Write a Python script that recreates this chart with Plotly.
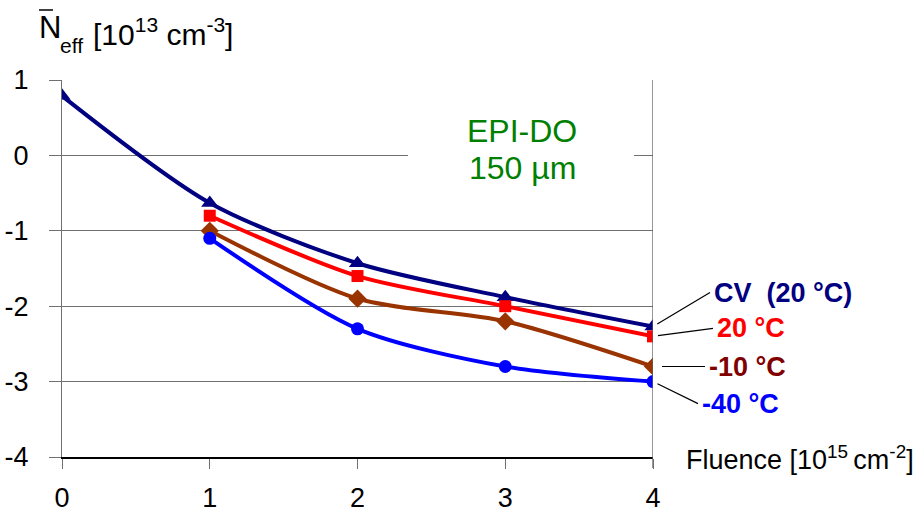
import plotly.graph_objects as go

fluence_cv = [0, 1, 2, 3, 4]
neff_cv = [0.79, -0.63, -1.43, -1.88, -2.27]
fluence = [1, 2, 3, 4]
neff_20 = [-0.80, -1.60, -2.00, -2.40]
neff_m10 = [-1.00, -1.90, -2.20, -2.80]
neff_m40 = [-1.10, -2.30, -2.80, -3.00]

labels = ["CV  (20 °C)", "20 °C", "-10 °C", "-40 °C"]
x_ticks = [0, 1, 2, 3, 4]
y_ticks = [-4, -3, -2, -1, 0, 1]
y_ticktext = ["-4", "-3", "-2", "-1", "0", "1"]

FONT = "Liberation Sans, Arial, sans-serif"

# pixel helpers for placing decoration text (plot area: x 62..653, y 80..457)
def px(xp):
    return (xp - 62) / 591.0

def py(yp):
    return (457 - yp) / 377.0

fig = go.Figure()
series = [
    (fluence_cv, neff_cv, "#000080", "triangle-up", 15),
    (fluence, neff_20, "#FF0000", "square", 12),
    (fluence, neff_m10, "#993300", "diamond", 14),
    (fluence, neff_m40, "#0000FF", "circle", 13),
]
for (xs, ys, col, sym, ms), name in zip(series, labels):
    fig.add_trace(go.Scatter(
        x=xs, y=ys, mode="lines+markers", name=name,
        line=dict(color=col, width=4, shape="spline", smoothing=0.8),
        marker=dict(color=col, symbol=sym, size=ms),
        showlegend=False,
    ))

# series labels with leader lines
label_cols = ["#000080", "#FF0000", "#800000", "#0000FF"]
ends = [neff_cv[-1], neff_20[-1], neff_m10[-1], neff_m40[-1]]
offsets = [(57, -34, 5), (60, -8, 5), (52, 0, 9), (45, 22, 5)]
for lab, col, yv, (ax, ay, so) in zip(labels, label_cols, ends, offsets):
    fig.add_annotation(
        x=4, y=yv, xref="x", yref="y", text="<b>%s</b>" % lab,
        showarrow=True, arrowhead=0, arrowwidth=1.2, arrowcolor="black",
        ax=ax, ay=ay, standoff=so, xanchor="left", yanchor="middle",
        font=dict(family=FONT, size=27, color=col), borderpad=3,
    )

# EPI-DO text box (white background hides the grid line)
fig.add_shape(type="rect", xref="paper", yref="paper",
              x0=px(408), x1=px(634), y0=py(205), y1=py(100),
              fillcolor="white", line=dict(width=0), layer="above")
fig.add_annotation(x=px(522), y=py(131), xref="paper", yref="paper",
                   text="EPI-DO", showarrow=False, xanchor="center", yanchor="middle",
                   font=dict(family=FONT, size=32, color="#008000"))
fig.add_annotation(x=px(522), y=py(168), xref="paper", yref="paper",
                   text="150 µm", showarrow=False, xanchor="center", yanchor="middle",
                   font=dict(family=FONT, size=32, color="#008000"))

# y-axis title
fig.add_annotation(x=px(37), y=py(28), xref="paper", yref="paper",
                   text="N", showarrow=False, xanchor="left", yanchor="middle",
                   font=dict(family=FONT, size=31, color="black"))
fig.add_shape(type="line", xref="paper", yref="paper",
              x0=px(39), x1=px(53), y0=py(10), y1=py(10),
              line=dict(color="black", width=1.5))
fig.add_annotation(x=px(58), y=py(46), xref="paper", yref="paper",
                   text="eff", showarrow=False, xanchor="left", yanchor="middle",
                   font=dict(family=FONT, size=21, color="black"))
fig.add_annotation(x=px(91), y=py(32), xref="paper", yref="paper",
                   text="[10<sup>13</sup> cm<sup>-3</sup>]", showarrow=False,
                   xanchor="left", yanchor="middle",
                   font=dict(family=FONT, size=30, color="black"))

# x-axis title
fig.add_annotation(x=px(684), y=py(458), xref="paper", yref="paper",
                   text="Fluence [10<sup>15 </sup>cm<sup>-2</sup>]", showarrow=False,
                   xanchor="left", yanchor="middle",
                   font=dict(family=FONT, size=27, color="black"))

# right border at x = 4
fig.add_shape(type="line", xref="x", yref="paper", x0=4, x1=4, y0=py(468), y1=1,
              line=dict(color="#606060", width=1.3))

fig.update_xaxes(
    range=[0, 4], tickvals=x_ticks, ticks="outside", ticklen=10,
    tickcolor="#707070", tickwidth=1.3, showline=True, linecolor="black",
    linewidth=1.6, showgrid=False, zeroline=False, automargin=False,
    tickfont=dict(family=FONT, size=27, color="black"), ticklabelstandoff=6,
)
fig.update_yaxes(
    range=[-4, 1], tickvals=y_ticks, ticktext=y_ticktext, ticks="outside",
    ticklen=12, tickcolor="#707070", tickwidth=1.3, showline=True,
    linecolor="#707070", linewidth=1.3, showgrid=True, gridcolor="#707070",
    gridwidth=1.2, zeroline=False, automargin=False,
    tickfont=dict(family=FONT, size=27, color="black"), ticklabelstandoff=15,
)
fig.update_layout(
    width=922, height=514, margin=dict(l=62, r=269, t=80, b=57),
    paper_bgcolor="white", plot_bgcolor="white",
    font=dict(family=FONT),
)
fig.write_html("out.html")
